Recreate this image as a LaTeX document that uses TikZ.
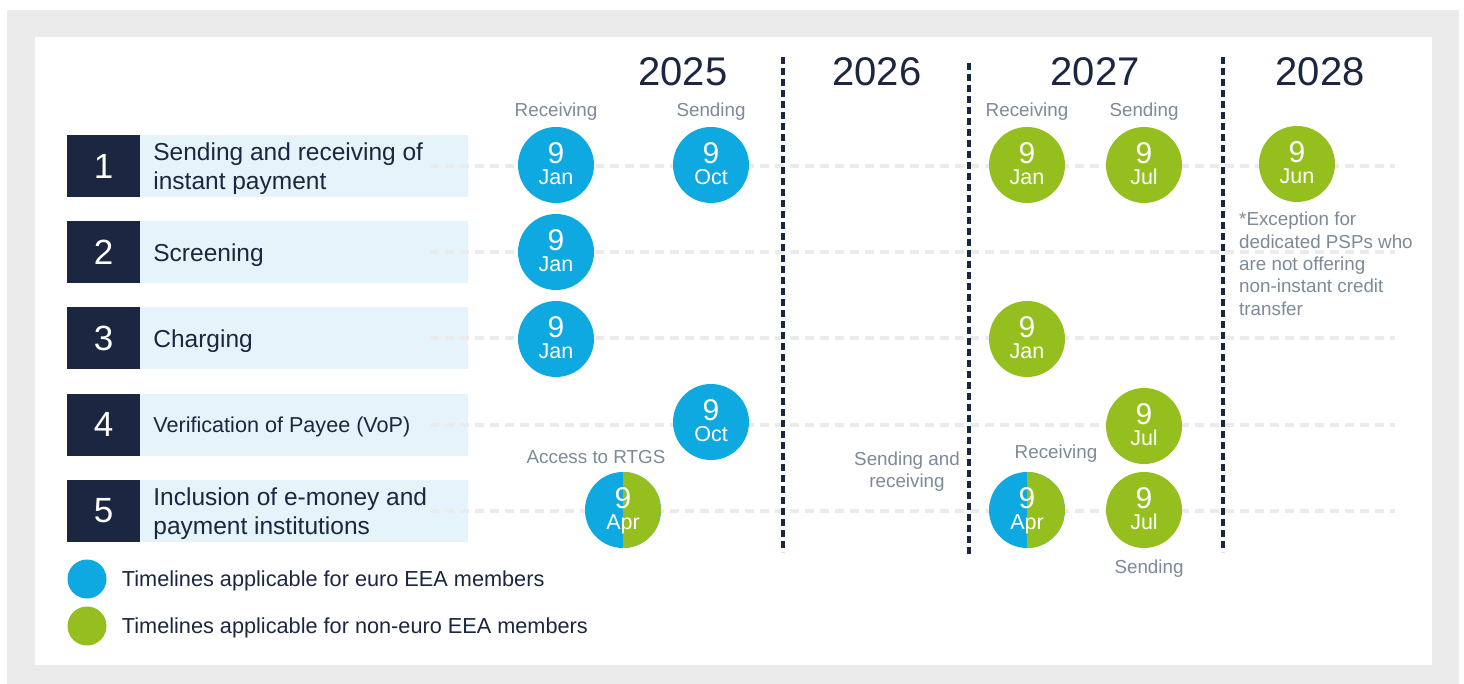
\documentclass[tikz,border=0pt]{standalone}
\usepackage{fontspec}
\setmainfont{Liberation Sans}
\usetikzlibrary{positioning}

\definecolor{navy}{HTML}{1B2640}
\definecolor{bandblue}{HTML}{E5F4FB}
\definecolor{eurob}{HTML}{0DA9E0}
\definecolor{noneg}{HTML}{95BF1F}
\definecolor{notegray}{HTML}{7D8A98}
\definecolor{guidegray}{HTML}{EBEBEB}
\definecolor{framegray}{HTML}{EBEBEB}

\tikzset{
  numbox/.style={fill=navy, text=white, minimum width=73pt, minimum height=62pt,
    inner sep=0pt, font=\fontsize{35}{35}\selectfont},
  rowband/.style={fill=bandblue, anchor=west, minimum width=328pt, minimum height=62pt, inner sep=0pt},
  rowtitle/.style={text=navy, align=left, inner sep=0pt, text depth=0pt},
  yearlabel/.style={text=navy, font=\fontsize{40}{40}\selectfont},
  note/.style={text=notegray, inner sep=0pt, text depth=0pt, font=\fontsize{18.8}{22.3}\selectfont},
  guide/.style={draw=guidegray, line width=4pt, dash pattern=on 9pt off 6pt},
  divider/.style={draw=navy, line width=4pt, dash pattern=on 7pt off 4pt},
  dot/.style={circle, minimum size=76pt, inner sep=0pt},
  euro/.style={dot, fill=eurob},
  noneuro/.style={dot, fill=noneg},
  split/.style={dot, fill=eurob, path picture={
      \fill[noneg] (path picture bounding box.north) rectangle (path picture bounding box.south east);}},
  daynum/.style={text=white, inner sep=0pt, anchor=base, font=\fontsize{30}{30}\selectfont},
  monname/.style={text=white, inner sep=0pt, anchor=base, font=\fontsize{21.5}{21.5}\selectfont},
  keytext/.style={text=navy, inner sep=0pt, text depth=0pt, anchor=west, font=\fontsize{21.7}{21.7}\selectfont}
}

% \datedot[style]{name}{position}{day}{month}
\newcommand\datedot[5][euro]{%
  \node[#1] (#2) at (#3) {};
  \node[daynum] (#2-d) at ([yshift=1.5pt]#2.center) {#4};
  \node[monname] (#2-m) at ([yshift=-19.5pt]#2.center) {#5};
}

\begin{document}
\begin{tikzpicture}[x=1pt, y=-1pt]
  % frame
  \useasboundingbox (0,0) rectangle (1464,684);
  \fill[framegray] (7,10) rectangle (1459,684);
  \fill[white] (35,37) rectangle (1432,665);

  % rows: number, band, title and guide line
  \foreach \n/\title/\sz in {1/{Sending and receiving of\\instant payment}/24.5,
      2/Screening/24.5, 3/Charging/24.5, 4/{Verification of Payee (VoP)}/21.6,
      5/{Inclusion of e-money and\\payment institutions}/24.5}{
    \node[numbox] (num\n) at (103.5,{166+86.2*(\n-1)}) {\n};
    \node[rowband] (band\n) at (num\n.east) {};
    \node[rowtitle, font=\fontsize{\sz}{29}\selectfont, right=13pt of num\n.east] (title\n) {\title};
    \coordinate (g\n-a) at (430,{166+86.2*(\n-1)});
    \coordinate (g\n-b) at (1395,{166+86.2*(\n-1)});
    \draw[guide] (g\n-a) -- (g\n-b);
  }

  % year dividers
  \foreach \x/\top/\bot in {783/57/552, 969/63/557, 1223/57/552}{
    \coordinate (d\x-t) at (\x,\top);
    \coordinate (d\x-b) at (\x,\bot);
    \draw[divider] (d\x-t) -- (d\x-b);
  }

  % years
  \foreach \yr/\x in {2025/683, 2026/877, 2027/1095, 2028/1320}
    \node[yearlabel] (y\yr) at (\x,72) {\yr};

  % euro members
  \datedot{r1a}{556,165}{9}{Jan}
  \datedot{r1b}{711,165}{9}{Oct}
  \datedot{r2a}{556,252}{9}{Jan}
  \datedot{r3a}{556,339}{9}{Jan}
  \datedot{r4a}{711,422}{9}{Oct}
  \datedot[split]{r5a}{623,510}{9}{Apr}

  % non-euro members
  \datedot[noneuro]{r1c}{1027,165}{9}{Jan}
  \datedot[noneuro]{r1d}{1144,165}{9}{Jul}
  \datedot[noneuro]{r1e}{1297,164}{9}{Jun}
  \datedot[noneuro]{r3b}{1027,339}{9}{Jan}
  \datedot[noneuro]{r4b}{1144,426}{9}{Jul}
  \datedot[split]{r5b}{1027,510}{9}{Apr}
  \datedot[noneuro]{r5c}{1144,510}{9}{Jul}

  % small notes
  \node[note, above=10pt of r1a] (n1a) {Receiving};
  \node[note, above=10pt of r1b] (n1b) {Sending};
  \node[note, above=10pt of r1c] (n1c) {Receiving};
  \node[note, above=10pt of r1d] (n1d) {Sending};
  \node[note] (n5a) at (596,457) {Access to RTGS};
  \node[note, align=center] (n5s) at (907,469.5) {Sending and\\receiving};
  \node[note] (n5r) at (1056,452) {Receiving};
  \node[note] (n5c) at (1149,567) {Sending};
  \node[note, align=left, anchor=north west] (nex) at (1239,212)
    {*Exception for\\dedicated PSPs who\\are not offering\\non-instant credit\\transfer};

  % key
  \node[euro, minimum size=39pt] (keyeuro) at (87,579) {};
  \node[keytext, right=15pt of keyeuro] (keyeurot) {Timelines applicable for euro EEA members};
  \node[noneuro, minimum size=39pt] (keynon) at (87,626) {};
  \node[keytext, right=15pt of keynon] (keynont) {Timelines applicable for non-euro EEA members};
\end{tikzpicture}
\end{document}
